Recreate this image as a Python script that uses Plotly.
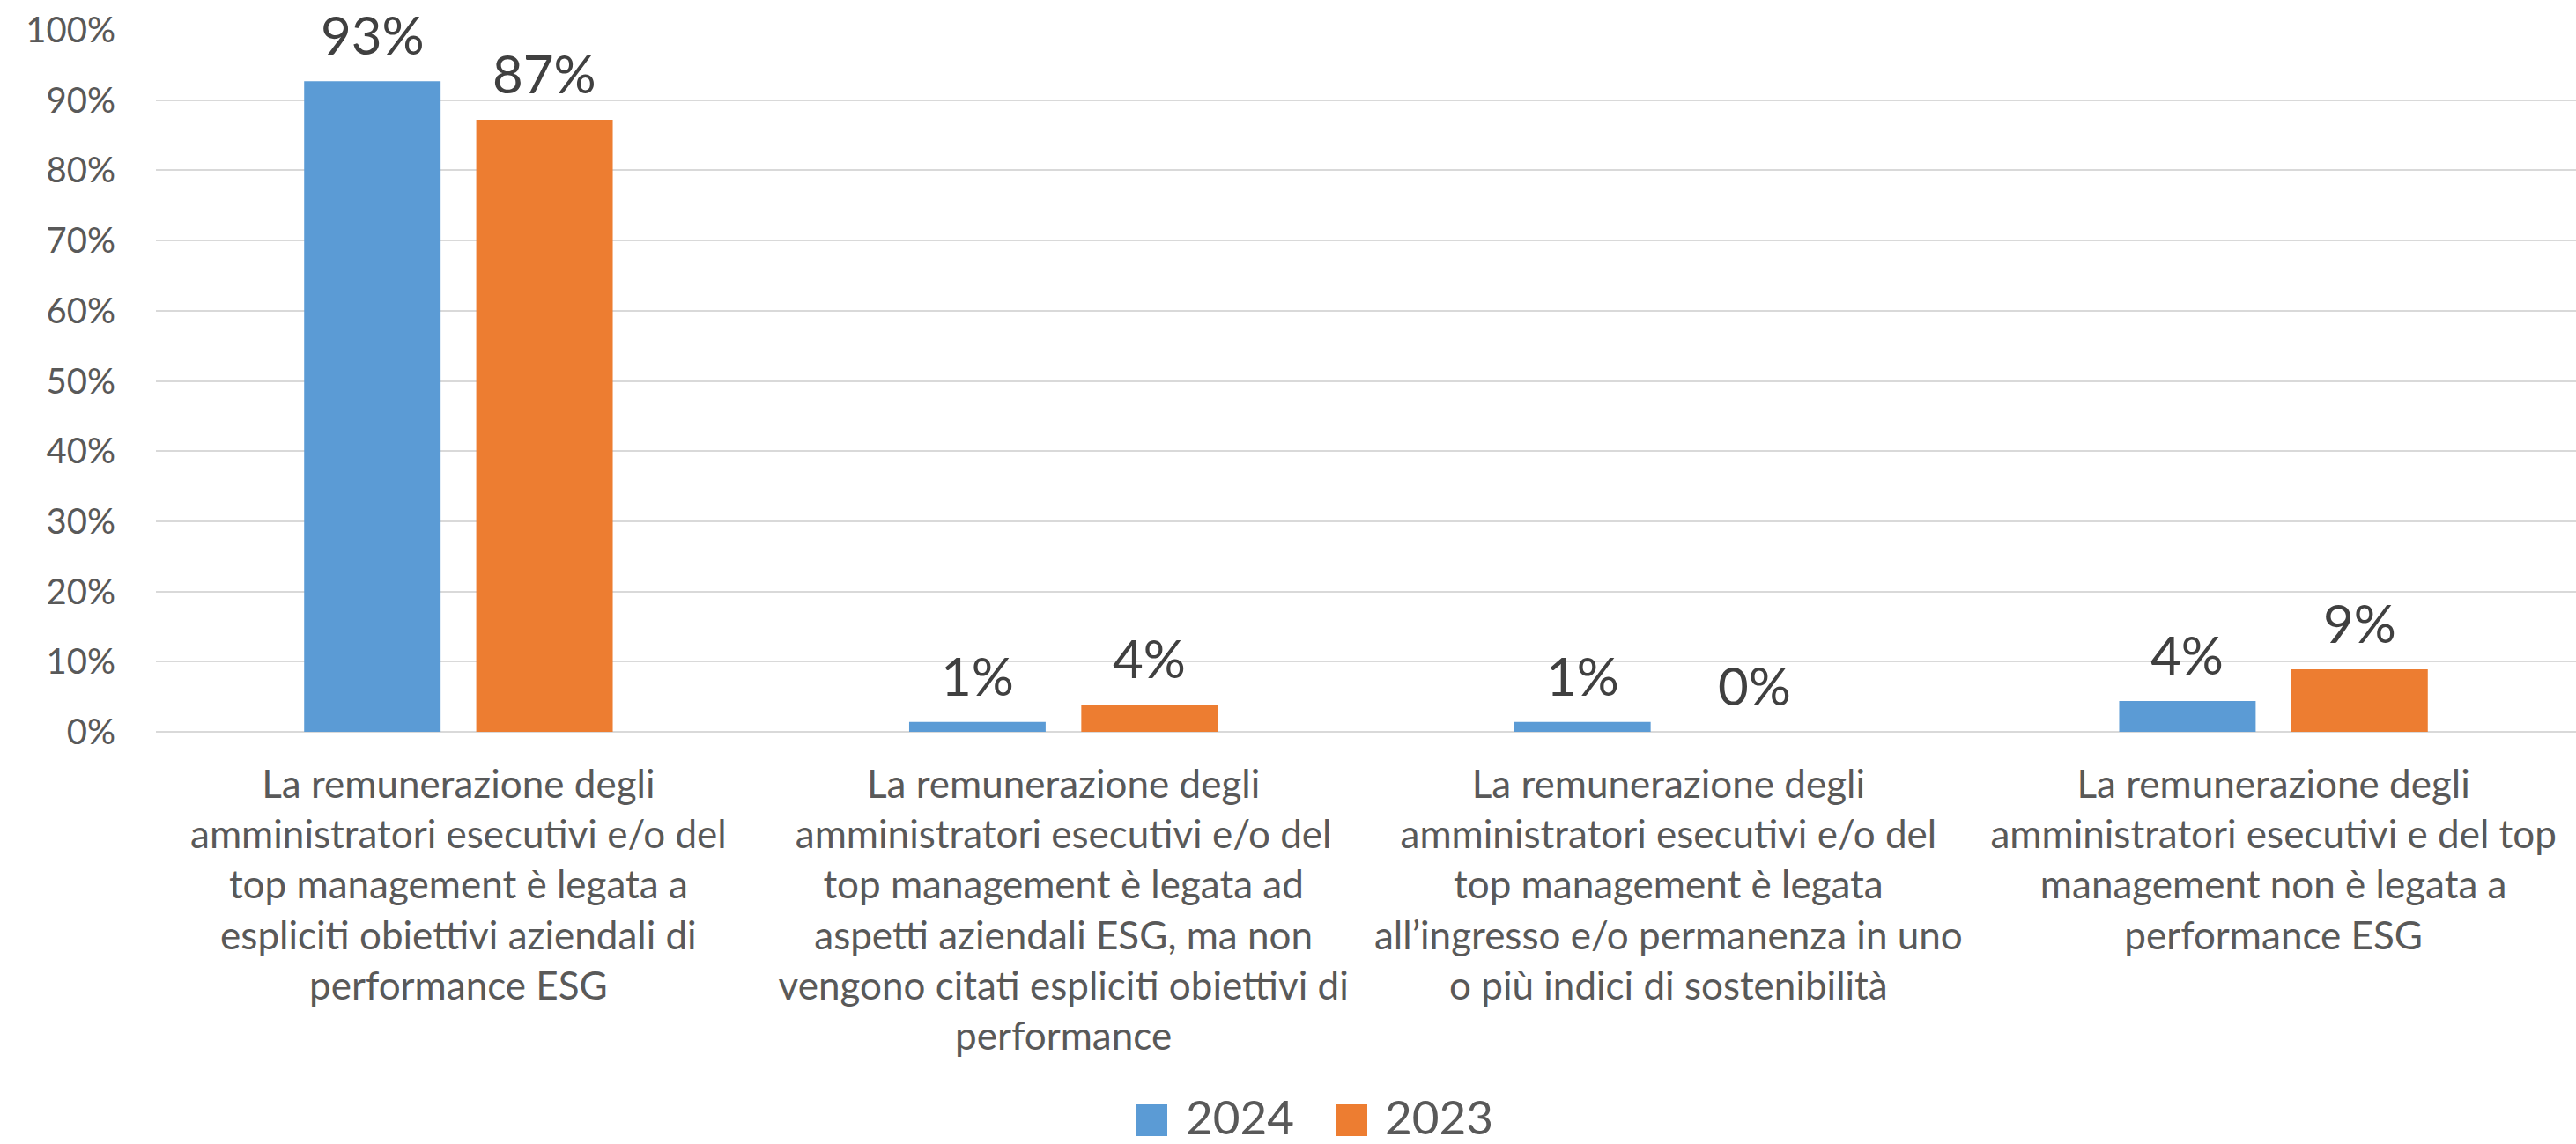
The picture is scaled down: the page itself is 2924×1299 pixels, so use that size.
import plotly.graph_objects as go

categories = [
    "La remunerazione degli<br>amministratori esecutivi e/o del<br>top management è legata a<br>espliciti obiettivi aziendali di<br>performance ESG",
    "La remunerazione degli<br>amministratori esecutivi e/o del<br>top management è legata ad<br>aspetti aziendali ESG, ma non<br>vengono citati espliciti obiettivi di<br>performance",
    "La remunerazione degli<br>amministratori esecutivi e/o del<br>top management è legata<br>all’ingresso e/o permanenza in uno<br>o più indici di sostenibilità",
    "La remunerazione degli<br>amministratori esecutivi e del top<br>management non è legata a<br>performance ESG",
]
series_names = ["2024", "2023"]
values_2024 = [0.927, 0.014, 0.014, 0.044]
values_2023 = [0.872, 0.039, 0.0, 0.089]
colors = ["#5B9BD5", "#ED7D31"]

W, H = 2924, 1299
ML, MR, MT, MB = 177, 0, 34, 468
PW, PH = W - ML - MR, H - MT - MB
BARGAP = 0.431
GROUPGAP = 0.207
FONT = "Lato"

def px_x(x):
    return (x - ML) / PW

def px_y(y):
    return (H - MB - y) / PH

fig = go.Figure()
all_vals = [values_2024, values_2023]
x_idx = list(range(len(categories)))
for name, vals, col in zip(series_names, all_vals, colors):
    fig.add_trace(go.Bar(x=x_idx, y=vals, name=name, marker_color=col,
                         marker_line_width=0, showlegend=False, hoverinfo="skip"))

# data labels
n = len(series_names)
slot = (1 - BARGAP) / n
for j, vals in enumerate(all_vals):
    off = -(1 - BARGAP) / 2 + slot * (j + 0.5)
    for i, v in enumerate(vals):
        fig.add_annotation(x=i + off, y=v, xref="x", yref="y",
                           text=f"{round(v*100)}%", showarrow=False,
                           yanchor="bottom", yshift=15,
                           font=dict(family=FONT, size=60, color="#404040"))

# manual legend
leg = [(1289, 1344), (1516, 1570)]
for (sx, tx), name, col in zip(leg, series_names, colors):
    fig.add_shape(type="rect", xref="paper", yref="paper",
                  x0=px_x(sx), x1=px_x(sx + 36), y0=px_y(1290), y1=px_y(1254),
                  fillcolor=col, line_width=0)
    fig.add_annotation(xref="paper", yref="paper", x=px_x(tx), y=px_y(1267),
                       text=name, showarrow=False, xanchor="left", yanchor="middle",
                       font=dict(family=FONT, size=53, color="#595959"))

fig.update_layout(
    width=W, height=H,
    margin=dict(l=ML, r=MR, t=MT, b=MB, autoexpand=False),
    paper_bgcolor="white", plot_bgcolor="white",
    barmode="group", bargap=BARGAP, bargroupgap=GROUPGAP,
    font=dict(family=FONT, color="#595959"),
)
fig.update_xaxes(tickmode="array", tickvals=x_idx, ticktext=categories,
                 tickfont=dict(family=FONT, size=44, color="#595959"),
                 tickangle=0,
                 range=[-0.5, len(categories) - 0.5], automargin=False,
                 showgrid=False, showline=False, ticks="", ticklabelstandoff=30)
fig.update_yaxes(range=[0, 1], dtick=0.1, tickformat=".0%", automargin=False,
                 showgrid=True, gridcolor="#D9D9D9", gridwidth=1.5,
                 zeroline=True, zerolinecolor="#D9D9D9", zerolinewidth=2,
                 showline=False, ticks="", ticklabelstandoff=45,
                 tickfont=dict(family=FONT, size=40, color="#595959"))

fig.write_html("out.html", config={"displayModeBar": False},
               post_script="document.body.style.margin='0px';")
